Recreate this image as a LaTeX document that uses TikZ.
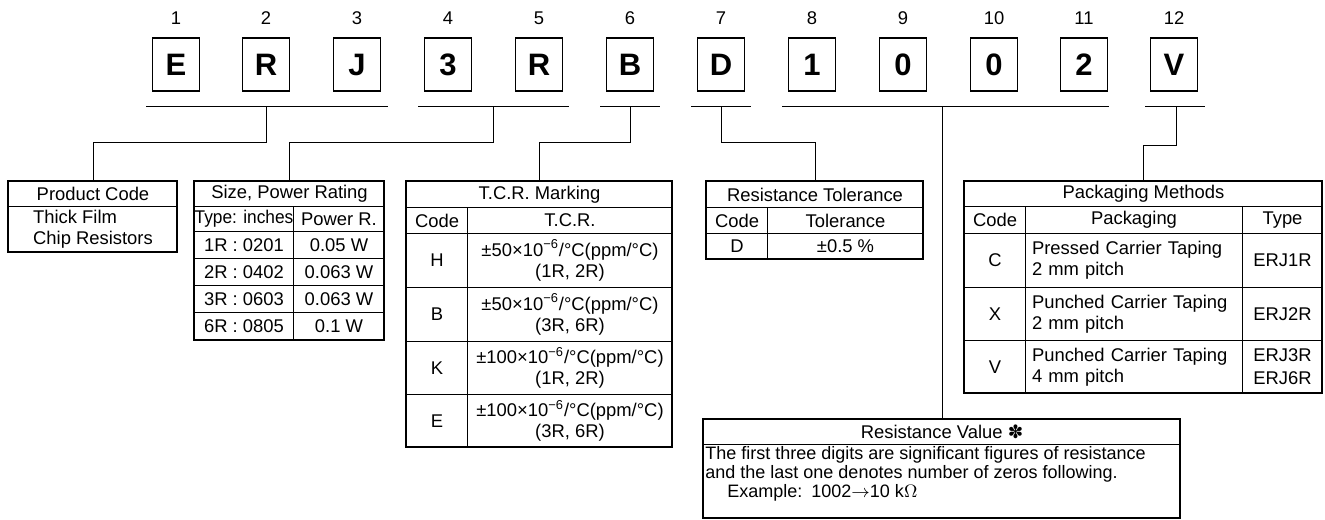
\documentclass[tikz,border=0pt]{standalone}
\usepackage{fontspec}
\setmainfont{Liberation Sans}
\newfontfamily\symfont{DejaVu Sans}
\tikzset{
  charbox/.style={draw,line width=0.8pt,minimum width=23.5pt,minimum height=26.5pt,inner sep=0pt,font=\fontsize{15.5}{18}\selectfont\bfseries},
  cell/.style 2 args={draw,line width=0.5pt,anchor=north west,inner sep=0pt,align=center,minimum width=#1*0.5pt,minimum height=#2*0.5pt},
  uline/.style={line width=0.5pt},
  link/.style={line width=0.5pt},
  frame/.style={line width=0.9pt}
}

\begin{document}
\begin{tikzpicture}[x=0.5pt,y=-0.5pt,every node/.style={font=\fontsize{9.2}{10.5}\selectfont}]
\useasboundingbox (0,0) rectangle (1325,519);
% digit numbers
\draw (176,18) node (n1) {1};
\draw (266,18) node (n2) {2};
\draw (357,18) node (n3) {3};
\draw (448,18) node (n4) {4};
\draw (539,18) node (n5) {5};
\draw (630,18) node (n6) {6};
\draw (721,18) node (n7) {7};
\draw (812,18) node (n8) {8};
\draw (903,18) node (n9) {9};
\draw (994,18) node (n10) {10};
\draw (1084,18) node (n11) {11};
\draw (1174,18) node (n12) {12};
% part number letters
\draw (176,64.5) node[charbox] (c1) {E};
\draw (266,64.5) node[charbox] (c2) {R};
\draw (357,64.5) node[charbox] (c3) {J};
\draw (448,64.5) node[charbox] (c4) {3};
\draw (539,64.5) node[charbox] (c5) {R};
\draw (630,64.5) node[charbox] (c6) {B};
\draw (721,64.5) node[charbox] (c7) {D};
\draw (812,64.5) node[charbox] (c8) {1};
\draw (903,64.5) node[charbox] (c9) {0};
\draw (994,64.5) node[charbox] (c10) {0};
\draw (1084,64.5) node[charbox] (c11) {2};
\draw (1174,64.5) node[charbox] (c12) {V};
% group lines
\draw[uline] (146,106) -- (388,106); % E R J
\draw[uline] (418,106) -- (569,106); % 3 R
\draw[uline] (600,106) -- (660,106); % B
\draw[uline] (691,106) -- (751,106); % D
\draw[uline] (782,106) -- (1109,106); % 1 0 0 2
\draw[uline] (1145,106) -- (1205,106); % V
\coordinate (g1) at (266,106);
\coordinate (g2) at (493,106);
\coordinate (g3) at (630,106);
\coordinate (g4) at (721,106);
\coordinate (g5) at (942,106);
\coordinate (g6) at (1176,106);

% product code
\node[cell={169}{25}] (pcH) at (8,181) {Product Code};
\node[cell={169}{46},align=left] (pcB) at (8,206) {Thick Film\\Chip Resistors};
\draw[frame] (8,181) rectangle (177,252);

% size, power rating
\node[cell={190}{25}] (spH) at (194,181) {Size, Power Rating};
\node[cell={99}{25}] (spT) at (194,206) {\scalebox{0.94}[1]{Type: inches}};
\node[cell={91}{25}] (spP) at (293,206) {Power R.};
\node[cell={99}{27}] (sp1) at (194,231) {1R : 0201};
\node[cell={91}{27}] (sp1w) at (293,231) {0.05 W};
\node[cell={99}{27}] (sp2) at (194,258) {2R : 0402};
\node[cell={91}{27}] (sp2w) at (293,258) {0.063 W};
\node[cell={99}{27}] (sp3) at (194,285) {3R : 0603};
\node[cell={91}{27}] (sp3w) at (293,285) {0.063 W};
\node[cell={99}{28}] (sp6) at (194,312) {6R : 0805};
\node[cell={91}{28}] (sp6w) at (293,312) {0.1 W};
\draw[frame] (194,181) rectangle (384,340);

% T.C.R. marking
\node[cell={266}{26}] (tcH) at (406,181) {T.C.R. Marking};
\node[cell={61}{26}] (tcC) at (406,207) {Code};
\node[cell={205}{26}] (tcT) at (467,207) {T.C.R.};
\node[cell={61}{54}] (tcH1) at (406,233) {H};
\node[cell={205}{54}] (tcH2) at (467,233) {±50×10\textsuperscript{−6}/°C(ppm/°C)\\(1R, 2R)};
\node[cell={61}{54}] (tcB1) at (406,287) {B};
\node[cell={205}{54}] (tcB2) at (467,287) {±50×10\textsuperscript{−6}/°C(ppm/°C)\\(3R, 6R)};
\node[cell={61}{53}] (tcK1) at (406,341) {K};
\node[cell={205}{53}] (tcK2) at (467,341) {±100×10\textsuperscript{−6}/°C(ppm/°C)\\(1R, 2R)};
\node[cell={61}{53}] (tcE1) at (406,394) {E};
\node[cell={205}{53}] (tcE2) at (467,394) {±100×10\textsuperscript{−6}/°C(ppm/°C)\\(3R, 6R)};
\draw[frame] (406,181) rectangle (672,447);

% resistance tolerance
\node[cell={217}{26}] (rtH) at (706,181) {Resistance Tolerance};
\node[cell={61}{26}] (rtC) at (706,207) {Code};
\node[cell={156}{26}] (rtT) at (767,207) {Tolerance};
\node[cell={61}{26}] (rtD) at (706,233) {D};
\node[cell={156}{26}] (rtV) at (767,233) {±0.5 \%};
\draw[frame] (706,181) rectangle (923,259);

% packaging methods
\node[cell={358}{25}] (pmH) at (964,181) {Packaging Methods};
\node[cell={61}{27}] (pmC) at (964,206) {Code};
\node[cell={217}{27}] (pmP) at (1025,206) {Packaging};
\node[cell={80}{27}] (pmT) at (1242,206) {Type};
\node[cell={61}{54}] (pmC1) at (964,233) {C};
\node[cell={217}{54},align=left,text width=102pt] (pmC2) at (1025,233) {Pressed Carrier Taping\\2 mm pitch};
\node[cell={80}{54}] (pmC3) at (1242,233) {ERJ1R};
\node[cell={61}{53}] (pmX1) at (964,287) {X};
\node[cell={217}{53},align=left,text width=102pt] (pmX2) at (1025,287) {Punched Carrier Taping\\2 mm pitch};
\node[cell={80}{53}] (pmX3) at (1242,287) {ERJ2R};
\node[cell={61}{53}] (pmV1) at (964,340) {V};
\node[cell={217}{53},align=left,text width=102pt] (pmV2) at (1025,340) {Punched Carrier Taping\\4 mm pitch};
\node[cell={80}{53}] (pmV3) at (1242,340) {ERJ3R\\[1pt]ERJ6R};
\draw[frame] (964,181) rectangle (1322,393);

% resistance value
\node[cell={477}{25}] (rvH) at (703,419) {Resistance Value {\symfont ✽}};
\node[cell={477}{74}] (rvB) at (703,444) {};
\node[anchor=west,inner sep=0pt,align=left,font=\fontsize{9}{9.6}\selectfont] (rvT) at (705,474) {The first three digits are significant figures of resistance\\and the last one denotes number of zeros following.\\\hspace*{11pt}Example:\enskip 1002$\rightarrow$10 k$\Omega$};
\draw[frame] (703,419) rectangle (1180,518);

% connectors
\draw[link] (g1) -- ++(0,36) -| (pcH.north);
\draw[link] (g2) -- ++(0,36) -| (spH.north);
\draw[link] (g3) -- ++(0,36) -| (tcH.north);
\draw[link] (g4) -- ++(0,36) -| (rtH.north);
\draw[link] (g5) -- (g5 |- rvH.north);
\draw[link] (g6) -- ++(0,39) -| (pmH.north);
\end{tikzpicture}
\end{document}
